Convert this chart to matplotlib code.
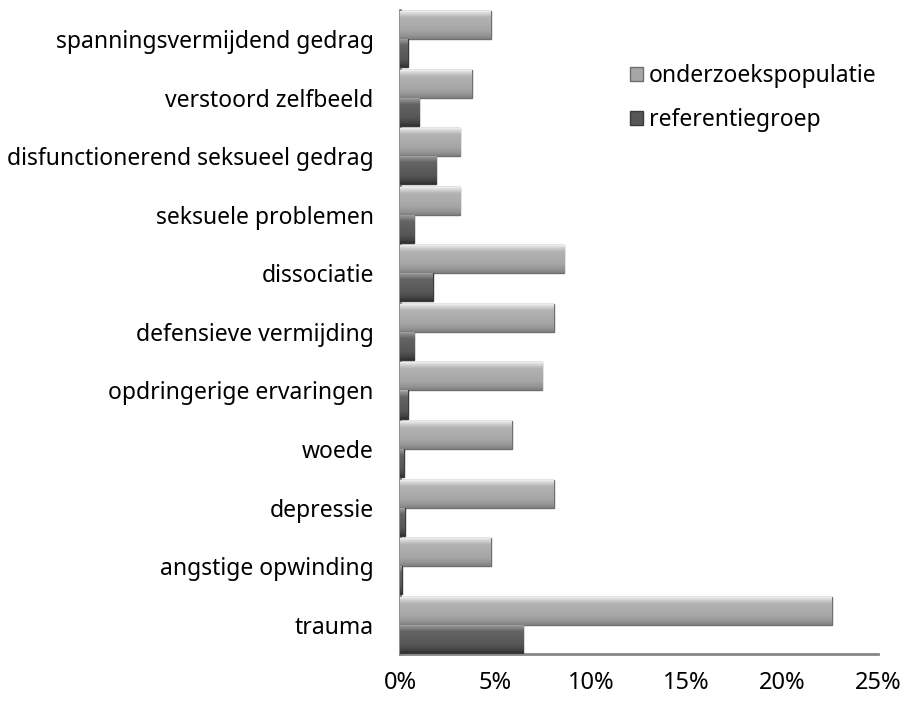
import matplotlib
matplotlib.use("Agg")
import matplotlib.pyplot as plt
import numpy as np
from matplotlib.ticker import FuncFormatter

# data (percentages), bottom to top
categories = ["trauma", "angstige opwinding", "depressie", "woede",
              "opdringerige ervaringen", "defensieve vermijding", "dissociatie",
              "seksuele problemen", "disfunctionerend seksueel gedrag",
              "verstoord zelfbeeld", "spanningsvermijdend gedrag"]
onderzoek = [22.6, 4.75, 8.05, 5.85, 7.45, 8.05, 8.6, 3.15, 3.15, 3.75, 4.75]
referentie = [6.45, 0.1, 0.25, 0.2, 0.4, 0.75, 1.7, 0.75, 1.9, 1.0, 0.4]

plt.rcParams['font.family'] = ['Noto Sans', 'DejaVu Sans']

fig = plt.figure(figsize=(9.03, 7.04), dpi=100)
ax = fig.add_axes([0.443, 0.071, 0.529, 0.915])

y = np.arange(len(categories))
h = 0.48


def bevel_bars(vals, offset, base, edge, label):
    bars = ax.barh(y + offset, vals, height=h, color=base, edgecolor=edge,
                   linewidth=1.0, label=label, zorder=3)
    # smooth vertical shading: bright top rim, flat middle, darker bottom
    t = np.linspace(0, 1, 64)
    shade = np.interp(t, [0, 0.06, 0.25, 0.7, 0.9, 1], [0.38, 0.24, 0.05, 0.0, -0.08, -0.15])
    c = np.array(matplotlib.colors.to_rgb(base))
    img = np.clip(c[None, None, :] + shade[:, None, None], 0, 1)
    for b, v, yy in zip(bars, vals, y + offset):
        im = ax.imshow(img, extent=[0, v, yy - h / 2, yy + h / 2],
                       aspect='auto', origin='upper', zorder=3.5,
                       interpolation='bilinear')
        im.set_clip_path(b)
    return bars


bevel_bars(onderzoek, h / 2, '#a6a6a6', '#6e6e6e', 'onderzoekspopulatie')
bevel_bars(referentie, -h / 2, '#575757', '#3a3a3a', 'referentiegroep')

ax.set_xlim(0, 25)
ax.set_ylim(-0.5, len(categories) - 0.5)
ax.set_yticks(y)
ax.set_yticklabels(categories, fontsize=16.5)
ax.set_xticks([0, 5, 10, 15, 20, 25])
ax.xaxis.set_major_formatter(FuncFormatter(lambda v, p: f"{v:.0f}%"))
ax.tick_params(axis='x', labelsize=17, length=0, pad=12)
ax.tick_params(axis='y', length=0, pad=19)

for s in ['top', 'right']:
    ax.spines[s].set_visible(False)
for s in ['left', 'bottom']:
    ax.spines[s].set_color('#868686')
    ax.spines[s].set_linewidth(2)

leg = ax.legend(loc='upper left', bbox_to_anchor=(619 / 903, 1 - 53 / 704),
                bbox_transform=fig.transFigure, frameon=False, fontsize=16.5,
                handlelength=0.55, handleheight=0.55, handletextpad=0.25,
                labelspacing=0.85, borderpad=0)

fig.savefig("out.png", dpi=100)
